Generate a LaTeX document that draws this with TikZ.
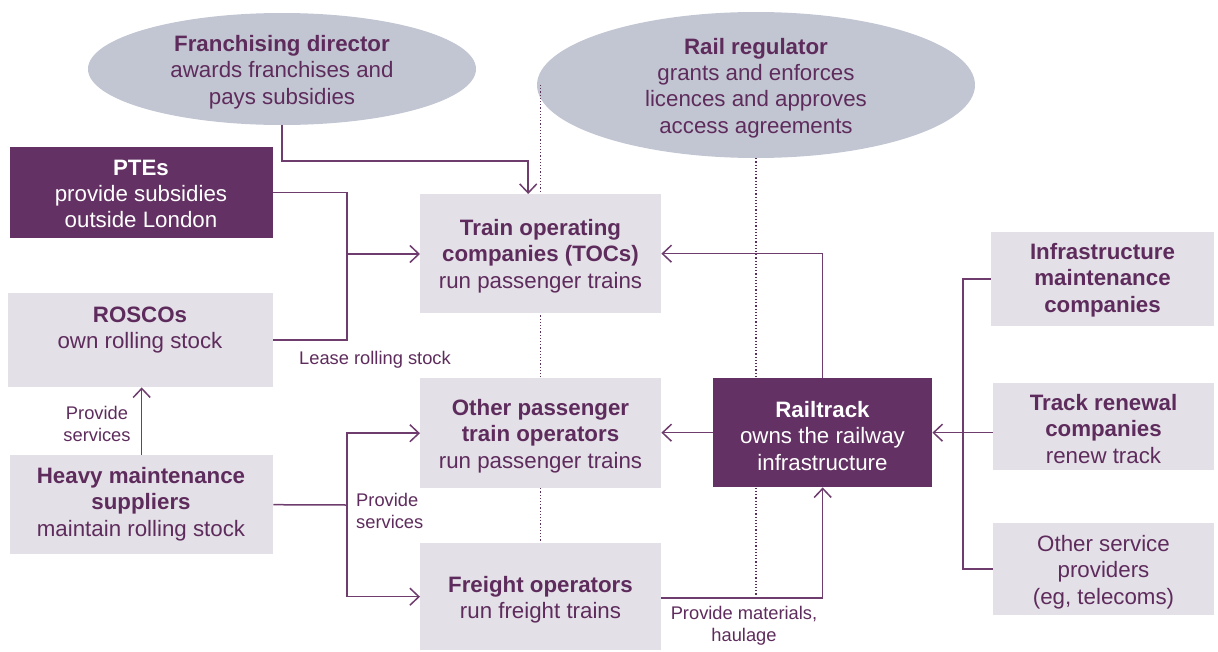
\documentclass[tikz,border=0pt]{standalone}
\usepackage{fontspec}
\setmainfont{Liberation Sans}
\usetikzlibrary{shapes.geometric,arrows.meta}
\definecolor{boxfill}{HTML}{E4E0E8}
\definecolor{darkfill}{HTML}{633163}
\definecolor{ellfill}{HTML}{C2C6D2}
\definecolor{txtcol}{HTML}{5E2C5C}
\definecolor{linecol}{HTML}{6E3D6E}
\tikzset{
  lbox/.style={fill=boxfill, inner sep=0, anchor=north west},
  dbox/.style={fill=darkfill, inner sep=0, anchor=north west},
  ell/.style={ellipse, fill=ellfill, inner sep=0},
  txt/.style={align=center, inner sep=0, text=txtcol, font=\fontsize{22.3}{26.3}\selectfont},
  wtxt/.style={txt, text=white},
  lbl/.style={inner sep=0, text=txtcol, font=\fontsize{18.3}{22.5}\selectfont},
  conn/.style={draw=linecol, line width=1.5pt},
  arr/.style={conn, -{Straight Barb[length=9pt,width=17pt,line width=1.5pt]}},
  dotline/.style={draw=linecol!80!black, line width=1.2pt, dotted}
}
\begin{document}
\begin{tikzpicture}[x=1pt,y=-1pt]
\useasboundingbox (0,0) rectangle (1218,651);
% ellipses
\node[ell, minimum width=388, minimum height=112] (fd) at (282,69) {};
\node[ell, minimum width=438, minimum height=146] (rr) at (756,85) {};
% dotted lines
\coordinate (d1) at (540.5,85);
\coordinate (d2) at (756,598);
\draw[dotline] (d1) -- (d1 |- 0,543);
\draw[dotline] (rr.south) -- (d2);
% boxes
\node[dbox, minimum width=263, minimum height=91] (ptes) at (10,147) {};
\node[lbox, minimum width=265, minimum height=94] (roscos) at (8,293) {};
\node[lbox, minimum width=263, minimum height=99] (heavy) at (10,455) {};
\node[lbox, minimum width=241, minimum height=119] (toc) at (420,194) {};
\node[lbox, minimum width=241, minimum height=110] (other) at (420,378) {};
\node[lbox, minimum width=241, minimum height=107] (freight) at (420,543) {};
\node[dbox, minimum width=219, minimum height=109] (rt) at (713,378) {};
\node[lbox, minimum width=223, minimum height=94] (infra) at (991,232) {};
\node[lbox, minimum width=221, minimum height=87] (tr) at (993,383) {};
\node[lbox, minimum width=221, minimum height=92] (osp) at (993,523) {};
% texts
\node[txt] (fdt) at (282,72) {\textbf{Franchising director}\\awards franchises and\\pays subsidies};
\node[txt] (rrt) at (756,88) {\textbf{Rail regulator}\\grants and enforces\\licences and approves\\access agreements};
\node[wtxt] (ptest) at (141,194) {\textbf{PTEs}\\provide subsidies\\outside London};
\node[txt] (roscost) at (140,330) {\textbf{ROSCOs}\\own rolling stock};
\node[txt] (heavyt) at (141,504) {\textbf{Heavy maintenance}\\\textbf{suppliers}\\maintain rolling stock};
\node[txt] (toct) at (540.5,256) {\textbf{Train operating}\\\textbf{companies (TOCs)}\\run passenger trains};
\node[txt] (othert) at (540.5,436) {\textbf{Other passenger}\\\textbf{train operators}\\run passenger trains};
\node[txt] (freightt) at (540.5,600) {\textbf{Freight operators}\\run freight trains};
\node[wtxt] (rtt) at (822.5,436) {\textbf{Railtrack}\\owns the railway\\infrastructure};
\node[txt] (infrat) at (1102.5,280) {\textbf{Infrastructure}\\\textbf{maintenance}\\\textbf{companies}};
\node[txt] (trt) at (1103.5,429) {\textbf{Track renewal}\\\textbf{companies}\\renew track};
\node[txt] (ospt) at (1103.5,572) {Other service\\providers\\(eg, telecoms)};
% labels
\node[lbl] (l1) at (375,360) {Lease rolling stock};
\node[lbl, align=left, anchor=west] (l2) at (356,511) {Provide\\services};
\node[lbl, align=center] (l3) at (97,424) {Provide\\services};
\node[lbl, align=center] (l4) at (744,626) {Provide materials,\\haulage};
% connectors
\coordinate (j1) at (347,254);
\coordinate (j2) at (347,505);
\coordinate (j3) at (963,435);
\draw[arr] (fd.south) -- (fd.south |- 0,161) -| ([xshift=-12.5]toc.north);
\draw[conn] (ptes.east) -| (j1);
\draw[conn] (roscos.east) -| (j1);
\draw[arr] (j1) -- (j1 -| toc.west);
\draw[conn] (heavy.east) -- (j2);
\draw[arr] (j2) |- (other.west);
\draw[arr] (j2) |- (freight.west);
\draw[arr] (heavy.north) -- (heavy.north |- roscos.south);
\draw[arr] (rt.north) |- (toc.east);
\draw[arr] (rt.west) -- (rt.west -| other.east);
\draw[arr] (freight.east |- d2) -| (rt.south);
\draw[conn] (infra.west) -| (j3) |- (osp.west);
\draw[arr] (tr.west |- rt.east) -- (rt.east);
\end{tikzpicture}
\end{document}
